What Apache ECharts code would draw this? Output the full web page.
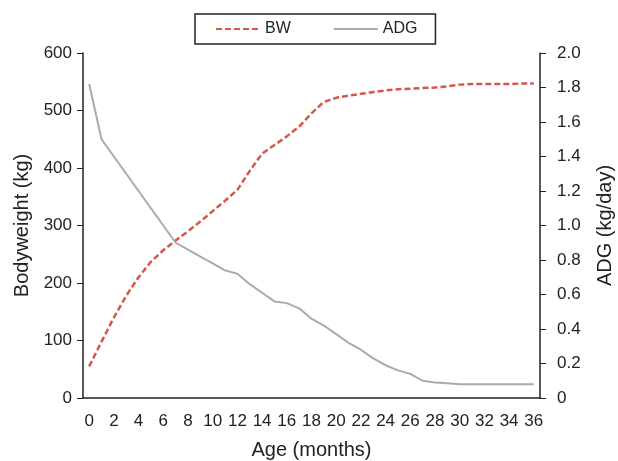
<!DOCTYPE html>
<html>
<head>
<meta charset="utf-8">
<script src="https://cdn.jsdelivr.net/npm/echarts@6/dist/echarts.min.js"></script>
<style>html,body{margin:0;padding:0;background:#fff}#c{width:618px;height:461px}</style>
</head>
<body>
<div id="c"></div>
<script>
const months = [0,1,2,3,4,5,6,7,8,9,10,11,12,13,14,15,16,17,18,19,20,21,22,23,24,25,26,27,28,29,30,31,32,33,34,35,36];
const bw = [55,98,140,178,210,237,257,274,290,307,325,343,362,395,425,440,455,472,495,515,522,526,529,532,535,537,538,539,540,542,545,546,546,546,546,547,547];
const adg = [1.82,1.50,1.40,1.30,1.20,1.10,1.00,0.90,0.86,0.82,0.78,0.74,0.72,0.66,0.61,0.56,0.55,0.52,0.46,0.42,0.37,0.32,0.28,0.23,0.19,0.16,0.14,0.10,0.09,0.085,0.08,0.08,0.08,0.08,0.08,0.08,0.08];
const font = 'Liberation Sans, Arial, sans-serif';
const chart = echarts.init(document.getElementById('c'));
chart.setOption({
  animation:false,
  backgroundColor:'#fff',
  textStyle:{fontFamily:font},
  legend:{
    left:195, top:14, padding:[7,18,7,20],
    borderColor:'#222', borderWidth:1.5,
    itemWidth:44, itemHeight:10, itemGap:42,
    itemStyle:{opacity:0},
    textStyle:{fontSize:16, color:'#222', fontFamily:font},
    data:['BW','ADG']
  },
  grid:{left:83, right:78, top:53, bottom:63, containLabel:false, outerBoundsMode:'none'},
  xAxis:{
    type:'category', data:months, boundaryGap:true,
    name:'Age (months)', nameLocation:'middle', nameGap:42,
    nameTextStyle:{fontSize:20, color:'#222'},
    axisLine:{lineStyle:{color:'#222', width:1.5}},
    axisTick:{interval:0, length:5, lineStyle:{color:'#222'}},
    axisLabel:{interval:1, fontSize:17, color:'#222', margin:15}
  },
  yAxis:[{
    type:'value', min:0, max:600, interval:100, position:'left',
    name:'Bodyweight (kg)', nameLocation:'middle', nameGap:51, nameRotate:90,
    nameTextStyle:{fontSize:20, color:'#222'},
    axisLine:{show:true, lineStyle:{color:'#222', width:1.5}},
    axisTick:{show:true, length:6, lineStyle:{color:'#222'}},
    axisLabel:{fontSize:17, color:'#222', margin:11},
    splitLine:{show:false}
  },{
    type:'value', min:0, max:2, interval:0.2, position:'right',
    name:'ADG (kg/day)', nameLocation:'middle', nameGap:55, nameRotate:90,
    nameTextStyle:{fontSize:20, color:'#222'},
    axisLine:{show:true, lineStyle:{color:'#222', width:1.5}},
    axisTick:{show:true, length:6, lineStyle:{color:'#222'}},
    axisLabel:{fontSize:17, color:'#222', margin:17,
      formatter:function(v){return v===0?'0':v.toFixed(1);}},
    splitLine:{show:false}
  }],
  series:[{
    name:'BW', type:'line', yAxisIndex:0, data:bw,
    showSymbol:false, symbol:'none',
    lineStyle:{color:'#d6574a', width:2.5, type:[6,3]},
    itemStyle:{color:'#d6574a'}
  },{
    name:'ADG', type:'line', yAxisIndex:1, data:adg,
    showSymbol:false, symbol:'none',
    lineStyle:{color:'#aaaaaa', width:2},
    itemStyle:{color:'#aaaaaa'}
  }]
});
</script>
</body>
</html>
